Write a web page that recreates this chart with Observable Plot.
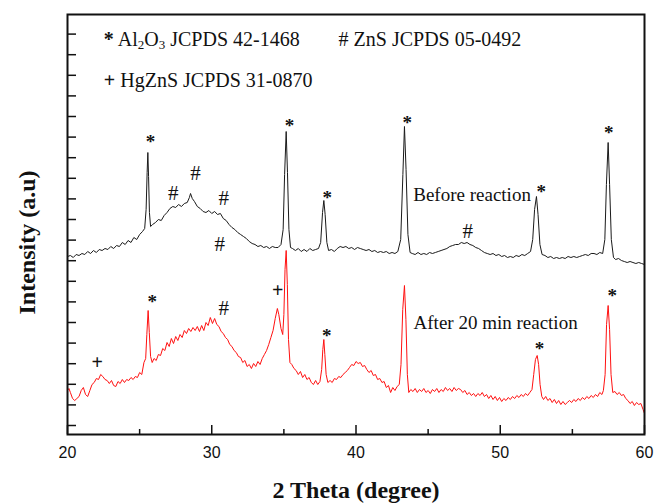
<!DOCTYPE html>
<html><head><meta charset="utf-8">
<script src="https://cdn.jsdelivr.net/npm/d3@7"></script>
<script src="https://cdn.jsdelivr.net/npm/@observablehq/plot@0.6"></script>
<style>body{margin:0;background:#fff}</style>
</head><body><div id="chart"></div>
<script>
// ---- tick labels / positions ----
const xTicksMajor = [20, 30, 40, 50, 60];
const xTicksMinor = [25, 35, 45, 55];
const yTicks = [9, 29.6, 50.2, 70.8, 91.4, 112, 132.6, 153.2, 173.8, 194.4, 215, 235.6, 256.2, 276.8, 297.4, 318, 338.6, 359.2, 379.8, 400.4];

// ---- series: [2theta, intensity (a.u., offset)] ----
const before = [
[20.0,178],[20.2,179],[20.4,177],[20.6,180],[20.8,179],[21.0,181],[21.2,180],[21.4,183],[21.6,181],[21.8,184],
[22.0,182],[22.2,185],[22.4,184],[22.6,186],[22.8,185],[23.0,188],[23.2,186],[23.4,189],[23.6,188],[23.8,192],
[24.0,190],[24.2,194],[24.4,192],[24.6,197],[24.8,195],[25.0,200],[25.2,203],[25.35,206],[25.45,225],[25.52,262],
[25.57,282],[25.62,258],[25.68,222],[25.76,208],[25.9,210],[26.1,212],[26.3,215],[26.5,214],[26.7,219],[26.9,222],
[27.1,226],[27.3,228],[27.5,227],[27.7,230],[27.9,228],[28.1,231],[28.3,232],[28.45,237],[28.53,241],[28.65,236],
[28.8,233],[29.0,228],[29.2,226],[29.4,223],[29.6,222],[29.8,224],[30.0,221],[30.2,223],[30.4,220],[30.6,221],
[30.8,216],[31.0,214],[31.2,210],[31.4,207],[31.6,205],[31.8,202],[32.0,200],[32.2,198],[32.4,196],[32.6,193],
[32.8,191],[33.0,190],[33.2,188],[33.4,189],[33.6,187],[33.8,188],[34.0,186],[34.2,188],[34.4,187],[34.6,187],
[34.8,190],[34.95,205],[35.05,260],[35.16,303],[35.25,262],[35.35,205],[35.46,187],[35.6,186],[35.8,184],[36.0,186],
[36.2,183],[36.4,185],[36.6,183],[36.8,186],[37.0,184],[37.2,185],[37.4,186],[37.55,192],[37.68,222],[37.77,234],
[37.86,220],[37.98,192],[38.1,184],[38.3,185],[38.5,183],[38.7,186],[38.9,188],[39.1,187],[39.3,188],[39.5,186],
[39.7,187],[39.9,185],[40.1,187],[40.3,186],[40.5,185],[40.7,184],[40.9,185],[41.1,183],[41.3,184],[41.5,182],
[41.7,183],[41.9,182],[42.1,183],[42.3,181],[42.5,182],[42.7,181],[42.9,183],[43.1,195],[43.25,260],[43.36,308],
[43.47,265],[43.6,200],[43.75,182],[43.9,181],[44.1,180],[44.3,182],[44.5,180],[44.7,181],[44.9,180],[45.1,182],
[45.3,181],[45.5,182],[45.7,183],[45.9,184],[46.1,185],[46.3,186],[46.5,188],[46.7,189],[46.9,190],[47.1,190],
[47.3,192],[47.5,191],[47.7,192],[47.9,190],[48.1,189],[48.3,187],[48.5,186],[48.7,184],[48.9,182],[49.1,181],
[49.3,180],[49.5,181],[49.7,179],[49.9,180],[50.1,178],[50.3,179],[50.5,177],[50.7,178],[50.9,177],[51.1,179],
[51.3,178],[51.5,180],[51.7,179],[51.9,181],[52.1,183],[52.25,195],[52.38,225],[52.51,238],[52.62,220],[52.75,190],
[52.9,180],[53.1,179],[53.3,177],[53.5,178],[53.7,176],[53.9,177],[54.1,176],[54.3,177],[54.5,176],[54.7,178],
[54.9,177],[55.1,178],[55.3,177],[55.5,178],[55.7,179],[55.9,180],[56.1,179],[56.3,181],[56.5,181],[56.7,180],
[56.9,182],[57.1,181],[57.25,195],[57.36,250],[57.48,292],[57.58,250],[57.7,195],[57.85,177],[58.0,175],[58.2,176],
[58.4,174],[58.6,173],[58.8,172],[59.0,173],[59.2,172],[59.4,171],[59.6,172],[59.8,171],[60.0,170]
];

const after = [
[20.0,44],[20.1,46],[20.2,42],[20.35,36],[20.5,34],[20.65,36],[20.8,38],[20.95,44],[21.1,47],[21.25,40],
[21.4,38],[21.55,44],[21.7,50],[21.85,52],[22.0,56],[22.15,55],[22.3,60],[22.45,58],[22.6,55],[22.75,54],
[22.9,51],[23.05,54],[23.2,49],[23.35,48],[23.5,53],[23.65,51],[23.8,55],[23.95,52],[24.1,55],[24.25,54],
[24.4,57],[24.55,55],[24.7,58],[24.85,57],[25.0,62],[25.15,60],[25.3,72],[25.42,76],[25.5,100],[25.59,124],
[25.67,102],[25.76,78],[25.87,72],[26.0,76],[26.15,74],[26.3,80],[26.45,79],[26.6,86],[26.75,84],[26.9,92],
[27.05,88],[27.2,96],[27.35,91],[27.5,98],[27.65,94],[27.8,100],[27.95,97],[28.1,104],[28.25,101],[28.4,106],
[28.55,103],[28.7,107],[28.85,104],[29.0,108],[29.15,103],[29.3,109],[29.45,104],[29.6,112],[29.75,109],[29.9,117],
[30.05,111],[30.2,116],[30.35,110],[30.5,108],[30.65,103],[30.8,101],[30.95,97],[31.1,95],[31.25,90],[31.4,88],
[31.55,84],[31.7,82],[31.85,78],[32.0,77],[32.15,72],[32.3,74],[32.45,68],[32.6,70],[32.75,66],[32.9,71],
[33.05,68],[33.2,73],[33.35,70],[33.5,76],[33.65,80],[33.8,84],[33.95,90],[34.1,97],[34.25,104],[34.4,116],
[34.55,126],[34.65,120],[34.8,106],[34.92,100],[35.0,120],[35.08,165],[35.16,184],[35.24,150],[35.32,95],[35.42,72],
[35.55,70],[35.7,66],[35.85,64],[36.0,60],[36.15,63],[36.3,57],[36.45,60],[36.6,55],[36.75,57],[36.9,52],
[37.05,50],[37.2,54],[37.35,50],[37.5,53],[37.62,65],[37.7,85],[37.77,95],[37.84,80],[37.93,60],[38.05,52],
[38.2,54],[38.35,52],[38.5,56],[38.65,55],[38.8,58],[38.95,57],[39.1,60],[39.25,62],[39.4,64],[39.55,67],
[39.7,70],[39.85,69],[40.0,73],[40.15,71],[40.3,72],[40.45,68],[40.6,69],[40.75,65],[40.9,62],[41.05,64],
[41.2,59],[41.35,60],[41.5,55],[41.65,56],[41.8,52],[41.95,53],[42.1,47],[42.25,49],[42.4,42],[42.55,47],
[42.7,44],[42.85,48],[43.0,50],[43.12,70],[43.24,125],[43.36,149],[43.46,115],[43.56,60],[43.66,42],[43.8,45],
[43.95,43],[44.1,46],[44.25,42],[44.4,45],[44.55,43],[44.7,46],[44.85,42],[45.0,44],[45.15,41],[45.3,45],
[45.45,43],[45.6,46],[45.75,42],[45.9,45],[46.05,43],[46.2,47],[46.35,44],[46.5,46],[46.65,43],[46.8,47],
[46.95,44],[47.1,46],[47.25,45],[47.4,42],[47.55,44],[47.7,40],[47.85,42],[48.0,39],[48.15,41],[48.3,38],
[48.45,41],[48.6,39],[48.75,42],[48.9,38],[49.05,40],[49.2,36],[49.35,39],[49.5,35],[49.65,38],[49.8,34],
[49.95,37],[50.1,33],[50.25,36],[50.4,34],[50.55,37],[50.7,35],[50.85,38],[51.0,36],[51.15,39],[51.3,37],
[51.45,40],[51.6,38],[51.75,41],[51.9,39],[52.05,42],[52.2,45],[52.32,60],[52.44,75],[52.56,79],[52.66,70],
[52.76,50],[52.88,38],[53.0,35],[53.15,38],[53.3,34],[53.45,36],[53.6,32],[53.75,35],[53.9,31],[54.05,34],
[54.2,30],[54.35,33],[54.5,30],[54.65,32],[54.8,34],[54.95,32],[55.1,35],[55.25,33],[55.4,36],[55.55,34],
[55.7,37],[55.85,35],[56.0,38],[56.15,36],[56.3,39],[56.45,37],[56.6,40],[56.75,38],[56.9,42],[57.05,40],
[57.15,44],[57.27,60],[57.37,110],[57.48,129],[57.58,105],[57.68,60],[57.8,42],[57.95,43],[58.1,40],[58.25,42],
[58.4,39],[58.55,40],[58.7,36],[58.85,34],[59.0,31],[59.15,33],[59.3,29],[59.45,32],[59.6,30],[59.75,31],
[59.9,25],[60.0,21]
];

// ---- peak annotations ----
const starMarks = [
  {x:25.75,y:296},{x:35.39,y:312},{x:38.00,y:240},{x:43.55,y:315},{x:52.84,y:246},{x:57.53,y:305},
  {x:25.87,y:136},{x:37.98,y:102},{x:52.72,y:89},{x:57.76,y:142}
];
const hashMarks = [
  {x:27.33,y:241},{x:28.87,y:261},{x:30.84,y:236},{x:30.56,y:190},{x:47.75,y:203},{x:30.84,y:126}
];
const plusMarks = [{x:22.06,y:71},{x:34.58,y:143}];

const legendItems = [
  {x:22.52, y:395.4, text:"* Al2O3 JCPDS 42-1468"},
  {x:38.79, y:395.4, text:"# ZnS JCPDS 05-0492"},
  {x:22.52, y:353.5, text:"+ HgZnS JCPDS 31-0870"}
];
const sampleLabels = [
  {x:43.97, y:240, text:"Before reaction"},
  {x:43.99, y:112, text:"After 20 min reaction"}
];

const serif = "Liberation Serif, Times New Roman, serif";
const sans = "Liberation Sans, Arial, sans-serif";
const W = 654, H = 503, mL = 67, mR = 10, mT = 14, mB = 69;
const frameW = W - mL - mR, frameH = H - mT - mB;

const chart = Plot.plot({
  width: W, height: H,
  marginLeft: mL, marginRight: mR, marginTop: mT, marginBottom: mB,
  x: {domain: [20, 60]},
  y: {domain: [0, 420], axis: null},
  style: {fontFamily: serif, background: "#fff"},
  marks: [
    Plot.line(before, {x: d => d[0], y: d => d[1], stroke: "#1a1a1a", strokeWidth: 1}),
    Plot.line(after, {x: d => d[0], y: d => d[1], stroke: "#ff1010", strokeWidth: 1}),
    Plot.text(starMarks, {x: "x", y: "y", text: () => "*", fontSize: 19, fontWeight: "bold", fontFamily: serif, dy: 3, fill: "#111"}),
    Plot.text(hashMarks, {x: "x", y: "y", text: () => "#", fontSize: 21, fontFamily: serif, fill: "#111"}),
    Plot.text(plusMarks, {x: "x", y: "y", text: () => "+", fontSize: 20, fontWeight: "bold", fontFamily: serif, dy: -1, fill: "#111"}),
    Plot.text(legendItems, {x: "x", y: "y", text: "text", textAnchor: "start", fontSize: 20, fontFamily: serif, fill: "#111"}),
    Plot.text(sampleLabels, {x: "x", y: "y", text: "text", textAnchor: "start", fontSize: 19, fontFamily: serif, fill: "#111"}),
    // inward ticks drawn as tick marks inset inside the frame
    Plot.tickX(xTicksMajor, {x: d => d, insetTop: frameH - 9, stroke: "#111", strokeWidth: 1.5}),
    Plot.tickX(xTicksMinor, {x: d => d, insetTop: frameH - 5, stroke: "#111", strokeWidth: 1.5}),
    Plot.tickY(yTicks, {y: d => d, insetRight: frameW - 9, stroke: "#111", strokeWidth: 1.5}),
    Plot.axisX({ticks: xTicksMajor, tickSize: 0, tickPadding: 12, fontSize: 16, fontFamily: sans, label: null, fill: "#111"}),
    Plot.frame({stroke: "#111", strokeWidth: 2}),
    Plot.text(["2 Theta (degree)"], {frameAnchor: "bottom", lineAnchor: "middle", textAnchor: "middle", dy: 56, fontSize: 24, fontWeight: "bold", fontFamily: serif, fill: "#111"}),
    Plot.text(["Intensity (a.u)"], {frameAnchor: "left", textAnchor: "middle", lineAnchor: "middle", dx: -40, dy: 18, rotate: -90, fontSize: 24, fontWeight: "bold", fontFamily: serif, fill: "#111"})
  ]
});

// subscripts for Al2O3; bold legend symbols
const ns = "http://www.w3.org/2000/svg";
chart.querySelectorAll("text").forEach(t => {
  const s0 = t.textContent;
  let parts = null;
  if (s0 === "* Al2O3 JCPDS 42-1468") parts = [["*",0,null,"bold"],[" Al",0,null],["2",3,13],["O",-3,null],["3",3,13],[" JCPDS 42-1468",-3,null]];
  else if (s0 === "+ HgZnS JCPDS 31-0870") parts = [["+",0,null,"bold"],[" HgZnS JCPDS 31-0870",0,null]];
  if (parts) {
    while (t.firstChild) t.removeChild(t.firstChild);
    parts.forEach(([s, dy, fs, fw]) => {
      const sp = document.createElementNS(ns, "tspan");
      sp.textContent = s;
      if (dy) sp.setAttribute("dy", dy);
      if (fs) sp.setAttribute("font-size", fs);
      if (fw) sp.setAttribute("font-weight", fw);
      t.appendChild(sp);
    });
  }
});
document.getElementById("chart").appendChild(chart);
</script>
</body></html>
